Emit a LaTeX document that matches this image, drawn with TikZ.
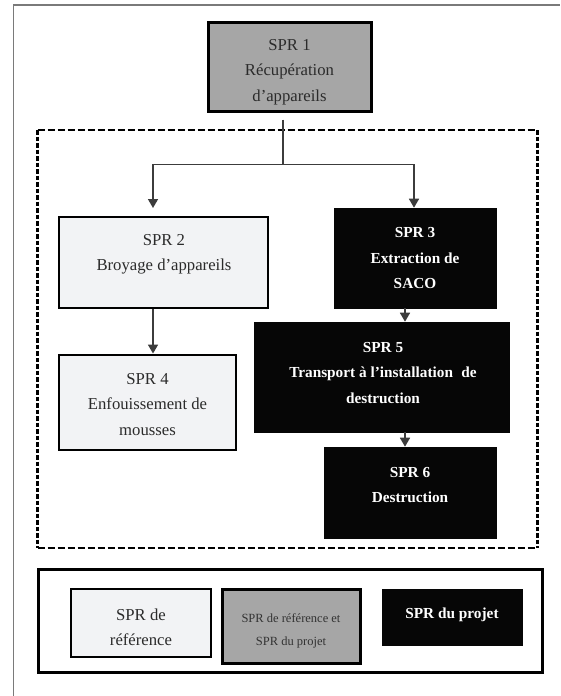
\documentclass[tikz,border=0pt]{standalone}
\usepackage{fontspec}
\setmainfont{Liberation Serif}
\usetikzlibrary{arrows.meta}
\definecolor{sprgray}{HTML}{A6A6A6}
\definecolor{sprlight}{HTML}{F2F3F5}
\definecolor{sprblack}{HTML}{060606}
\definecolor{inkdark}{HTML}{2B2B2B}
\definecolor{linegray}{HTML}{3C3C3C}
\definecolor{framegray}{HTML}{7A7A7A}

\begin{document}
\begin{tikzpicture}[x=1pt,y=-1pt,
  stage/.style={rectangle, inner sep=0pt},
  lightstage/.style={stage, fill=sprlight, draw=black, line width=2.9pt},
  greystage/.style={stage, fill=sprgray, draw=black, line width=3pt},
  darkstage/.style={stage, fill=sprblack, draw=sprblack, line width=0.6pt},
  plain/.style={align=center, inner sep=0pt, text=inkdark, font=\fontsize{16.7}{25.5}\selectfont},
  strong/.style={align=center, inner sep=0pt, text=white, font=\fontsize{15.3}{25.5}\selectfont\bfseries},
  link/.style={draw=linegray, line width=1.6pt},
  flow/.style={link, -{Triangle[width=10pt,length=9pt]}},
  grouph/.style={line width=2.8pt, dash pattern=on 7pt off 3pt},
  groupv/.style={line width=2.8pt, dash pattern=on 4.5pt off 2pt},
]
\useasboundingbox (0,0) rectangle (560,696);

% page frame (top and left edges)
\draw[framegray, line width=1.5pt] (13.5,696) -- (13.5,5) -- (560,5);

% dashed group around the project stages
\coordinate (gtl) at (37.5,130);
\coordinate (gbr) at (537.5,548);
\draw[grouph] (gtl) -- (gtl -| gbr);
\draw[grouph] (gtl |- gbr) -- (gbr);
\draw[groupv] (gtl) -- (gtl |- gbr);
\draw[groupv] (gbr |- gtl) -- (gbr);

% stages
\node[greystage, minimum width=163pt, minimum height=89pt] (s1) at (289.5,66.5) {};
\node[plain] (t1) at (289.5,72) {SPR 1\\Récupération\\d’appareils};

\node[lightstage, minimum width=209pt, minimum height=91pt] (s2) at (163.5,262.5) {};
\node[plain] (t2) at (164,254.5) {SPR 2\\Broyage d’appareils};

\node[darkstage, minimum width=162pt, minimum height=100pt] (s3) at (415,258) {};
\node[strong] (t3) at (415,258.5) {SPR 3\\Extraction de\\SACO};

\node[lightstage, minimum width=177pt, minimum height=95pt] (s4) at (147.5,402.5) {};
\node[plain] (t4) at (147.5,404.5) {SPR 4\\Enfouissement de\\mousses};

\node[darkstage, minimum width=255pt, minimum height=110pt] (s5) at (381.5,377) {};
\node[strong] (t5) at (383,373) {SPR 5\\Transport à l’installation\hspace{0.3em} de\\destruction};

\node[darkstage, minimum width=172pt, minimum height=91pt] (s6) at (410,492.5) {};
\node[strong] (t6) at (410,485) {SPR 6\\Destruction};

% connectors
\coordinate (j) at (283,164.5);
\coordinate (a2) at (153,208);
\draw[link] ([yshift=-7pt]s1.south -| j) -- (j);
\draw[flow] (j) -| (a2);
\draw[flow] (j) -| ([xshift=-1pt]s3.north);
\draw[flow] (s2.south -| a2) -- (s4.north -| a2);
\draw[flow] ([xshift=-10pt]s3.south) -- ([xshift=-10pt]s3.south |- s5.north);
\draw[flow] ([xshift=-5pt]s6.north |- s5.south) -- ([xshift=-5pt]s6.north);

% legend
\node[stage, draw=black, fill=white, line width=3pt, minimum width=504pt, minimum height=103pt] (legend) at (290.8,620.5) {};
\node[lightstage, minimum width=140pt, minimum height=68pt] (l1) at (141,623) {};
\node[plain] (lt1) at (141,627.5) {SPR de\\référence};
\node[greystage, minimum width=138pt, minimum height=74pt] (l2) at (291,626) {};
\node[plain, text=black!80, font=\fontsize{12.5}{23}\selectfont] (lt2) at (291,630.5) {SPR de référence et\\SPR du projet};
\node[darkstage, minimum width=140pt, minimum height=56pt] (l3) at (452,617) {};
\node[strong, font=\fontsize{15.3}{25}\selectfont\bfseries] (lt3) at (452,615) {SPR du projet};
\end{tikzpicture}
\end{document}
